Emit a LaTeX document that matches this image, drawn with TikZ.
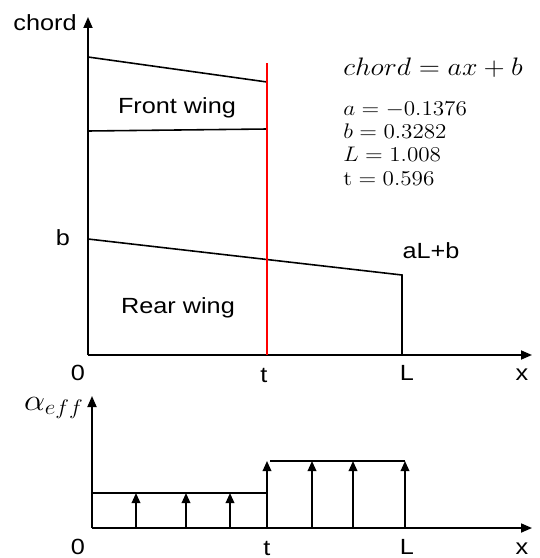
\documentclass[tikz,border=0pt]{standalone}
\usepackage[no-math]{fontspec}
\setmainfont{Liberation Sans}[FakeStretch=1.15]
\usetikzlibrary{arrows.meta}
\newcommand{\widemath}[2][1.1]{\scalebox{#1}[1]{#2}}

\begin{document}
\begin{tikzpicture}[x=0.02cm, y=-0.02cm,
    axis/.style={line width=1pt, -{Triangle[length=2.2mm, width=1.8mm]}},
    edge/.style={line width=0.9pt},
    lift/.style={line width=1pt, -{Triangle[length=2mm, width=1.7mm]}},
    lab/.style={anchor=base, inner sep=0pt, font=\fontsize{12.5}{15}\selectfont},
    eqn/.style={anchor=base west, inner sep=0pt, font=\fontsize{13}{15}\selectfont}]
    \useasboundingbox (0,0) rectangle (539,558);

    % top plot: chord over x
    \coordinate (O1)  at (88,355);
    \coordinate (Yc)  at (88,17);
    \coordinate (Xc)  at (532,355);
    \draw[axis] (O1) -- (Yc);
    \draw[axis] (O1) -- (Xc);
    \node[lab] (chordlab) at (45,30) {chord};

    % front wing, ends at x = t
    \coordinate (FW1) at (88,57);
    \coordinate (FW2) at (267,82);
    \coordinate (FW3) at (267,129);
    \coordinate (FW4) at (88,131);
    \draw[edge] (FW1) -- (FW2) -- (FW3);
    \draw[edge] (FW4) -- (FW3);
    \node[lab] (frontlab) at (177,113) {Front wing};

    % rear wing, from 0 to L
    \coordinate (RW1) at (88,239);
    \coordinate (RW2) at (402,275);
    \coordinate (RW3) at (402,355);
    \draw[edge] (RW1) -- (RW2) -- (RW3);
    \node[lab] (rearlab) at (178,313) {Rear wing};
    \node[lab] (blab)   at (63,245)  {b};
    \node[lab] (aLblab) at (431,258) {aL+b};

    % cut at x = t
    \coordinate (Rtop) at (267,63);
    \coordinate (Rbot) at (267,355);
    \draw[red, line width=0.9pt] (Rtop) -- (Rbot);

    % axis ticks (text only)
    \node[lab] (zero1) at (78,380)  {0};
    \node[lab] (t1)    at (264,382) {t};
    \node[lab] (L1)    at (407,380) {L};
    \node[lab] (x1)    at (522,380) {x};

    % chord law and values
    \node[eqn, font=\fontsize{13.5}{16}\selectfont] (law) at (343,75) {\widemath{$chord = ax + b$}};
    \node[eqn] (pa) at (343,115) {\widemath{$a = -0.1376$}};
    \node[eqn] (pb) at (343,138) {\widemath{$b = 0.3282$}};
    \node[eqn] (pL) at (343,161) {\widemath{$L = 1.008$}};
    \node[eqn] (pt) at (343,185) {\widemath{$\mathrm{t} = 0.596$}};

    % bottom plot: effective angle of attack
    \coordinate (O2) at (92,528);
    \coordinate (Ya) at (92,396);
    \coordinate (Xa) at (532,528);
    \draw[axis] (O2) -- (Ya);
    \draw[axis] (O2) -- (Xa);
    \node[lab, font=\fontsize{16.5}{19}\selectfont] (alab) at (54,410) {\widemath{$\alpha_{eff}$}};

    \coordinate (Lo1) at (92,493);
    \coordinate (Lo2) at (267,493);
    \coordinate (Hi1) at (270,461);
    \coordinate (Hi2) at (405,461);
    \draw[edge] (Lo1) -- (Lo2);
    \draw[edge] (Hi1) -- (Hi2);

    % load arrows
    \foreach \xx in {136,186,230} {
        \coordinate (lb\xx) at (\xx,528);
        \coordinate (lt\xx) at (\xx,493);
        \draw[lift] (lb\xx) -- (lt\xx);
    }
    \foreach \xx in {267,312,353,405} {
        \coordinate (hb\xx) at (\xx,528);
        \coordinate (ht\xx) at (\xx,461);
        \draw[lift] (hb\xx) -- (ht\xx);
    }

    \node[lab] (zero2) at (78,554)  {0};
    \node[lab] (t2)    at (267,555) {t};
    \node[lab] (L2)    at (407,554) {L};
    \node[lab] (x2)    at (522,554) {x};
\end{tikzpicture}
\end{document}
